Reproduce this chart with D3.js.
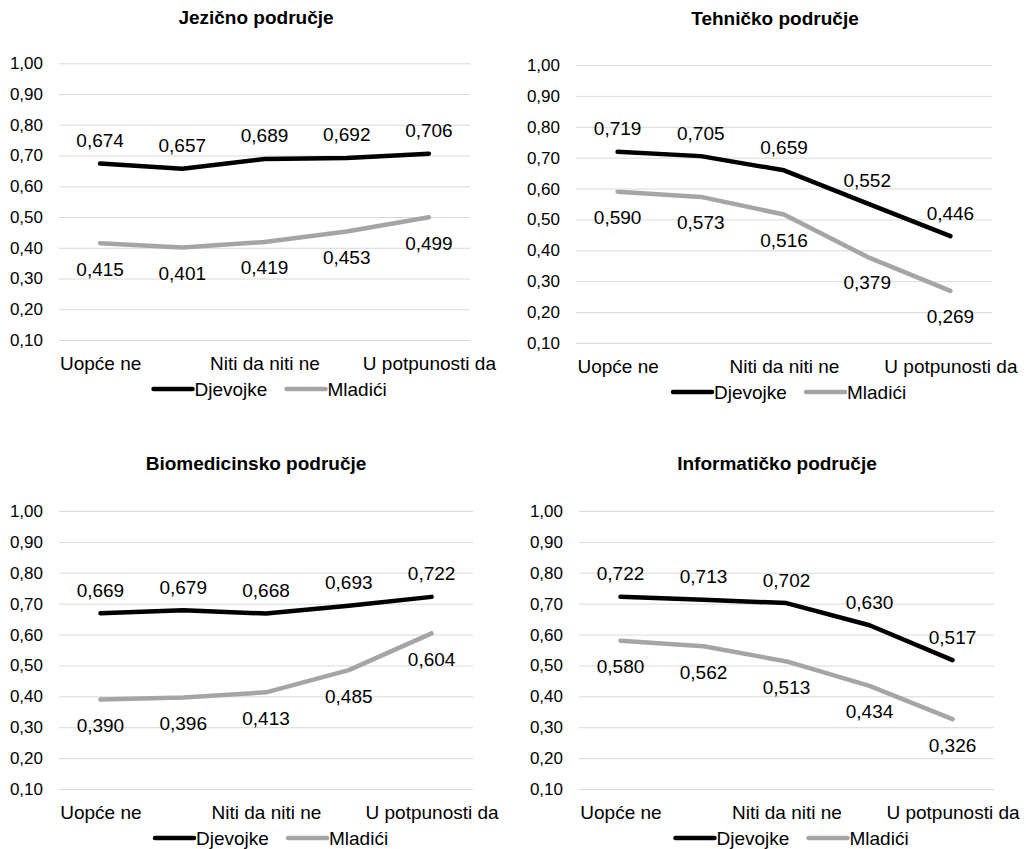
<!DOCTYPE html>
<html>
<head>
<meta charset="utf-8">
<script src="https://cdn.jsdelivr.net/npm/d3@7"></script>
<style>
  html, body { margin: 0; padding: 0; background: #fff; }
  svg { display: block; font-family: "Liberation Sans", Arial, sans-serif; }
</style>
</head>
<body>
<svg id="chart" width="1026" height="849"></svg>
<script>
// ---- data ----
const categoryLabels = ["Uopće ne", "", "Niti da niti ne", "", "U potpunosti da"];
const categoryIndex = [0, 1, 2, 3, 4];
const seriesNames = ["Djevojke", "Mladići"];
const yTicks = [0.1, 0.2, 0.3, 0.4, 0.5, 0.6, 0.7, 0.8, 0.9, 1.0];

const titles = ["Jezično područje", "Tehničko područje", "Biomedicinsko područje", "Informatičko područje"];

const jezicnoDjevojke = [0.674, 0.657, 0.689, 0.692, 0.706];
const jezicnoMladici  = [0.415, 0.401, 0.419, 0.453, 0.499];
const tehnickoDjevojke = [0.719, 0.705, 0.659, 0.552, 0.446];
const tehnickoMladici  = [0.590, 0.573, 0.516, 0.379, 0.269];
const biomedDjevojke = [0.669, 0.679, 0.668, 0.693, 0.722];
const biomedMladici  = [0.390, 0.396, 0.413, 0.485, 0.604];
const informDjevojke = [0.722, 0.713, 0.702, 0.630, 0.517];
const informMladici  = [0.580, 0.562, 0.513, 0.434, 0.326];

const panelData = [
  [jezicnoDjevojke, jezicnoMladici],
  [tehnickoDjevojke, tehnickoMladici],
  [biomedDjevojke, biomedMladici],
  [informDjevojke, informMladici]
];

// ---- layout (positions only) ----
const layouts = [
  { x0: 59,  x1: 470, yTop: 63.3, yBot: 340, titleX: 256, titleY: 17 },
  { x0: 576, x1: 992, yTop: 65,   yBot: 343, titleX: 775, titleY: 18 },
  { x0: 59,  x1: 473, yTop: 511,  yBot: 789, titleX: 256, titleY: 463 },
  { x0: 579, x1: 994, yTop: 511,  yBot: 789, titleX: 777, titleY: 463 }
];
const colors = ["#000000", "#a5a5a5"];
const fmt = v => d3.format(".3f")(v).replace(".", ",");
const fmtTick = v => d3.format(".2f")(v).replace(".", ",");

const svg = d3.select("#chart");

panelData.forEach((series, p) => {
  const L = layouts[p];
  const g = svg.append("g");

  const x = d3.scalePoint().domain(categoryIndex).range([L.x0, L.x1]).padding(0.5);
  const y = d3.scaleLinear().domain([0.1, 1.0]).range([L.yBot, L.yTop]);

  // title
  g.append("text")
    .attr("x", L.titleX).attr("y", L.titleY)
    .attr("text-anchor", "middle").attr("dominant-baseline", "central")
    .style("font-weight", "bold").style("font-size", "19px").attr("fill", "#000")
    .text(titles[p]);

  // gridlines + y labels via axis
  const yAxis = d3.axisLeft(y).tickValues(yTicks).tickFormat(fmtTick)
    .tickSize(-(L.x1 - L.x0)).tickPadding(16);
  const ya = g.append("g").attr("transform", `translate(${L.x0},0)`).call(yAxis);
  ya.select(".domain").remove();
  ya.selectAll(".tick line").attr("stroke", "#d9d9d9").attr("stroke-width", 1);
  ya.selectAll(".tick text").attr("fill", "#000").style("font-size", "17px")
    .attr("font-family", "Liberation Sans, Arial, sans-serif");

  // x labels via axis
  const xAxis = d3.axisBottom(x).tickSize(0).tickPadding(0)
    .tickFormat(i => categoryLabels[i]);
  const xa = g.append("g").attr("transform", `translate(0,${L.yBot + 23})`).call(xAxis);
  xa.select(".domain").remove();
  xa.selectAll(".tick text").attr("fill", "#000").style("font-size", "19px")
    .attr("font-family", "Liberation Sans, Arial, sans-serif")
    .attr("dy", "0.35em").attr("y", 0);

  // lines
  const line = d3.line().x((d, i) => x(i)).y(d => y(d));
  series.forEach((vals, s) => {
    g.append("path").datum(vals)
      .attr("d", line).attr("fill", "none")
      .attr("stroke", colors[s]).attr("stroke-width", 4.5)
      .attr("stroke-linejoin", "round").attr("stroke-linecap", "round");
  });

  // data labels
  series.forEach((vals, s) => {
    g.selectAll(null).data(vals).enter().append("text")
      .attr("x", (d, i) => x(i))
      .attr("y", d => s === 0 ? y(d) - 23 : y(d) + 26)
      .attr("text-anchor", "middle").attr("dominant-baseline", "central")
      .style("font-size", "19px").attr("fill", "#000")
      .text(d => fmt(d));
  });

  // legend
  const cx = (L.x0 + L.x1) / 2;
  const ly = L.yBot + 49;
  const leg = g.append("g");
  let lx = cx - 111;
  seriesNames.forEach((name, s) => {
    leg.append("line").attr("x1", lx).attr("x2", lx + 39).attr("y1", ly).attr("y2", ly)
      .attr("stroke", colors[s]).attr("stroke-width", 4.5).attr("stroke-linecap", "round");
    leg.append("text").attr("x", lx + 41).attr("y", ly)
      .attr("dominant-baseline", "central").style("font-size", "19px").attr("fill", "#000")
      .text(name);
    lx += 133;
  });
});
</script>
</body>
</html>
